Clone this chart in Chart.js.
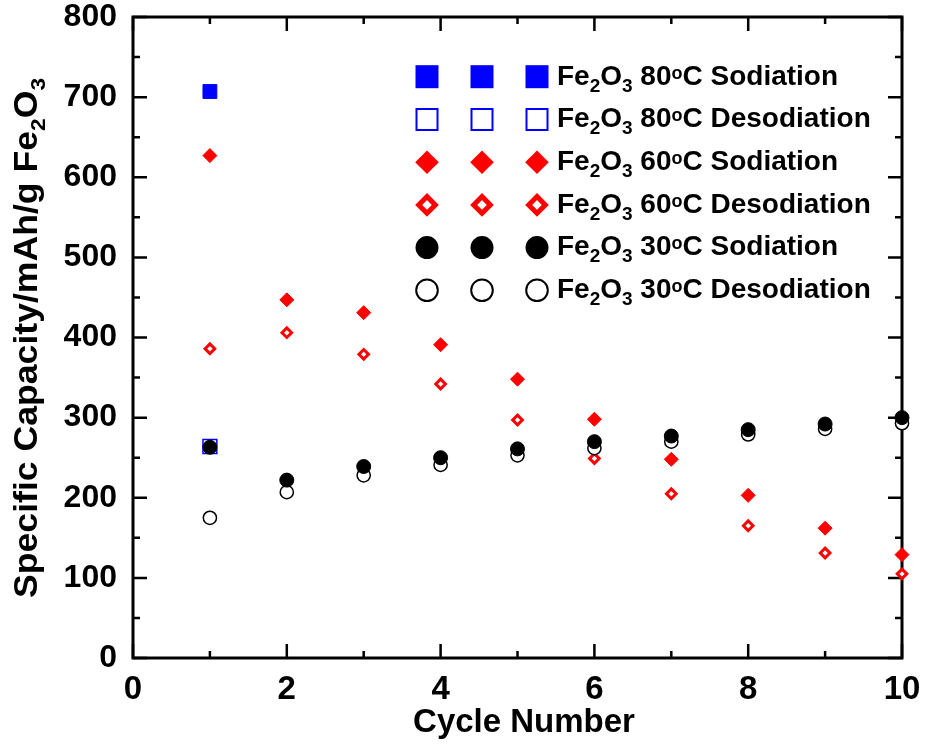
<!DOCTYPE html>
<html>
<head>
<meta charset="utf-8">
<script src="https://cdn.jsdelivr.net/npm/chart.js@4.4.0/dist/chart.umd.min.js"></script>
<style>
  html, body { margin: 0; padding: 0; background: #fff; }
  #wrap { width: 927px; height: 754px; }
</style>
</head>
<body>
<div id="wrap"><canvas id="capacityCanvas"></canvas></div>
<script>
// cycle numbers and capacities (mAh/g)
const cycles = [1, 2, 3, 4, 5, 6, 7, 8, 9, 10];
const sod80 = [707];
const desod80 = [264];
const sod60 = [627, 447, 431, 391, 348, 298, 248, 203, 162, 129];
const desod60 = [386, 406, 379, 342, 297, 249, 205, 165, 131, 105];
const sod30 = [263, 222, 239, 250, 261, 270, 277, 285, 292, 300];
const desod30 = [175, 207, 228, 241, 253, 262, 270, 279, 286, 293];

// axis ticks
const xTicks = [0, 2, 4, 6, 8, 10];
const xMinor = [1, 3, 5, 7, 9];
const yTicks = [0, 100, 200, 300, 400, 500, 600, 700, 800];
const yMinor = [50, 150, 250, 350, 450, 550, 650, 750];

// legend text
const legendTemps = ['80', '80', '60', '60', '30', '30'];
const legendKinds = ['Sodiation', 'Desodiation', 'Sodiation', 'Desodiation', 'Sodiation', 'Desodiation'];

const FONT = "'Liberation Sans', Arial, sans-serif";

function pts(vals) {
    return vals.map((v, i) => ({ x: cycles[i], y: v }));
}

// draws text in pieces so subscripts / superscripts work
function drawRich(ctx, parts, x, y, measureOnly) {
    let cx = x;
    parts.forEach(p => {
        ctx.font = 'bold ' + p.s + 'px ' + FONT;
        if (!measureOnly) ctx.fillText(p.t, cx, y + (p.dy || 0));
        cx += ctx.measureText(p.t).width;
    });
    return cx - x;
}

// legend marker drawing (three copies per row)
function drawMarker(ctx, kind, x, y) {
    ctx.beginPath();
    if (kind === 0) {
        ctx.fillStyle = '#0000ff';
        ctx.fillRect(x - 11.5, y - 11.5, 23, 23);
    } else if (kind === 1) {
        ctx.strokeStyle = '#0000ff';
        ctx.lineWidth = 2;
        ctx.strokeRect(x - 10.5, y - 10.5, 21, 21);
    } else if (kind === 2 || kind === 3) {
        const r = kind === 2 ? 11.8 : 8.3;
        ctx.moveTo(x, y - r); ctx.lineTo(x + r, y); ctx.lineTo(x, y + r); ctx.lineTo(x - r, y); ctx.closePath();
        if (kind === 2) { ctx.fillStyle = '#ff0000'; ctx.fill(); }
        else { ctx.strokeStyle = '#ff0000'; ctx.lineWidth = 5; ctx.lineJoin = 'miter'; ctx.stroke(); }
    } else if (kind === 4) {
        ctx.arc(x, y, 11.5, 0, Math.PI * 2);
        ctx.fillStyle = '#000'; ctx.fill();
    } else {
        ctx.arc(x, y, 10.8, 0, Math.PI * 2);
        ctx.strokeStyle = '#000'; ctx.lineWidth = 2; ctx.stroke();
    }
}

const frameTicks = {
    id: 'frameTicks',
    beforeDatasetsDraw(chart) {
        const { ctx, chartArea: a, scales: { x, y } } = chart;
        ctx.save();
        ctx.strokeStyle = '#000';
        ctx.lineWidth = 2.5;
        ctx.lineCap = 'butt';
        function tickX(v, len) {
            const px = x.getPixelForValue(v);
            ctx.beginPath();
            ctx.moveTo(px, a.bottom); ctx.lineTo(px, a.bottom - len);
            ctx.moveTo(px, a.top); ctx.lineTo(px, a.top + len);
            ctx.stroke();
        }
        function tickY(v, len) {
            const py = y.getPixelForValue(v);
            ctx.beginPath();
            ctx.moveTo(a.left, py); ctx.lineTo(a.left + len, py);
            ctx.moveTo(a.right, py); ctx.lineTo(a.right - len, py);
            ctx.stroke();
        }
        xTicks.forEach(v => tickX(v, 14));
        xMinor.forEach(v => tickX(v, 7));
        yTicks.forEach(v => tickY(v, 14));
        yMinor.forEach(v => tickY(v, 7));
        ctx.lineWidth = 3;
        ctx.strokeRect(a.left, a.top, a.right - a.left, a.bottom - a.top);
        ctx.restore();
    },
    afterDraw(chart) {
        const { ctx } = chart;
        ctx.save();
        ctx.fillStyle = '#000';
        ctx.textBaseline = 'alphabetic';

        // x title
        ctx.font = 'bold 33px ' + FONT;
        ctx.textAlign = 'center';
        ctx.fillText('Cycle Number', 524, 732);
        ctx.textAlign = 'left';

        // y title, rotated
        const yParts = [
            { t: 'Specific Capacity/mAh/g Fe', s: 33 },
            { t: '2', s: 21, dy: 8 },
            { t: 'O', s: 33 },
            { t: '3', s: 21, dy: 8 }
        ];
        const w = drawRich(ctx, yParts, 0, 0, true);
        const k = 520 / w;
        ctx.save();
        ctx.translate(37, 598);
        ctx.rotate(-Math.PI / 2);
        ctx.scale(k, 1);
        drawRich(ctx, yParts, 0, 0);
        ctx.restore();

        // legend
        const rowY = [76.7, 119.5, 162.2, 204.9, 247.6, 290.3];
        const markX = [427, 482, 537];
        legendTemps.forEach((temp, i) => {
            markX.forEach(mx => drawMarker(ctx, i, mx, rowY[i]));
            ctx.fillStyle = '#000';
            drawRich(ctx, [
                { t: 'Fe', s: 28 },
                { t: '2', s: 19, dy: 7 },
                { t: 'O', s: 28 },
                { t: '3', s: 19, dy: 7 },
                { t: ' ' + temp, s: 28 },
                { t: 'o', s: 18, dy: -6 },
                { t: 'C ' + legendKinds[i], s: 28 }
            ], 557, rowY[i] + 7.8);
        });
        ctx.restore();
    }
};

const canvas = document.getElementById('capacityCanvas');

new Chart(canvas, {
    type: 'scatter',
    data: {
        datasets: [
            {
                label: 'Fe2O3 80oC Sodiation', data: pts(sod80), order: 6, clip: false,
                pointStyle: 'rect', pointRadius: 9.8, backgroundColor: '#0000ff', borderColor: '#0000ff', borderWidth: 1
            },
            {
                label: 'Fe2O3 80oC Desodiation', data: pts(desod80), order: 5, clip: false,
                pointStyle: 'rect', pointRadius: 9.8, backgroundColor: '#ffffff', borderColor: '#0000ff', borderWidth: 1.5
            },
            {
                label: 'Fe2O3 60oC Sodiation', data: pts(sod60), order: 4, clip: false,
                pointStyle: 'rectRot', pointRadius: 7, backgroundColor: '#ff0000', borderColor: '#ff0000', borderWidth: 1
            },
            {
                label: 'Fe2O3 60oC Desodiation', data: pts(desod60), order: 3, clip: false,
                pointStyle: 'rectRot', pointRadius: 4.8, backgroundColor: '#ffffff', borderColor: '#ff0000', borderWidth: 3
            },
            {
                label: 'Fe2O3 30oC Desodiation', data: pts(desod30), order: 2, clip: false,
                pointStyle: 'circle', pointRadius: 6.6, backgroundColor: '#ffffff', borderColor: '#000000', borderWidth: 1.5
            },
            {
                label: 'Fe2O3 30oC Sodiation', data: pts(sod30), order: 1, clip: false,
                pointStyle: 'circle', pointRadius: 7, backgroundColor: '#000000', borderColor: '#000000', borderWidth: 1
            }
        ]
    },
    options: {
        responsive: true,
        maintainAspectRatio: false,
        animation: false,
        layout: {
            autoPadding: false,
            padding: { left: 0, top: 17, right: 25, bottom: 0 }
        },
        plugins: {
            legend: { display: false },
            tooltip: { enabled: false }
        },
        scales: {
            x: {
                type: 'linear',
                min: 0,
                max: 10,
                afterBuildTicks: s => { s.ticks = xTicks.map(v => ({ value: v })); },
                afterFit: s => { s.height = 96; s.paddingLeft = 0; s.paddingRight = 0; },
                ticks: {
                    color: '#000',
                    padding: 12,
                    maxRotation: 0,
                    font: { family: FONT, size: 33, weight: 'bold' }
                },
                grid: { display: false, drawTicks: false },
                border: { display: false }
            },
            y: {
                type: 'linear',
                min: 0,
                max: 800,
                afterBuildTicks: s => { s.ticks = yTicks.map(v => ({ value: v })); },
                afterFit: s => { s.width = 133; s.paddingTop = 0; s.paddingBottom = 0; },
                ticks: {
                    color: '#000',
                    padding: 16,
                    font: { family: FONT, size: 32, weight: 'bold' }
                },
                grid: { display: false, drawTicks: false },
                border: { display: false }
            }
        }
    },
    plugins: [frameTicks]
});
</script>
</body>
</html>
